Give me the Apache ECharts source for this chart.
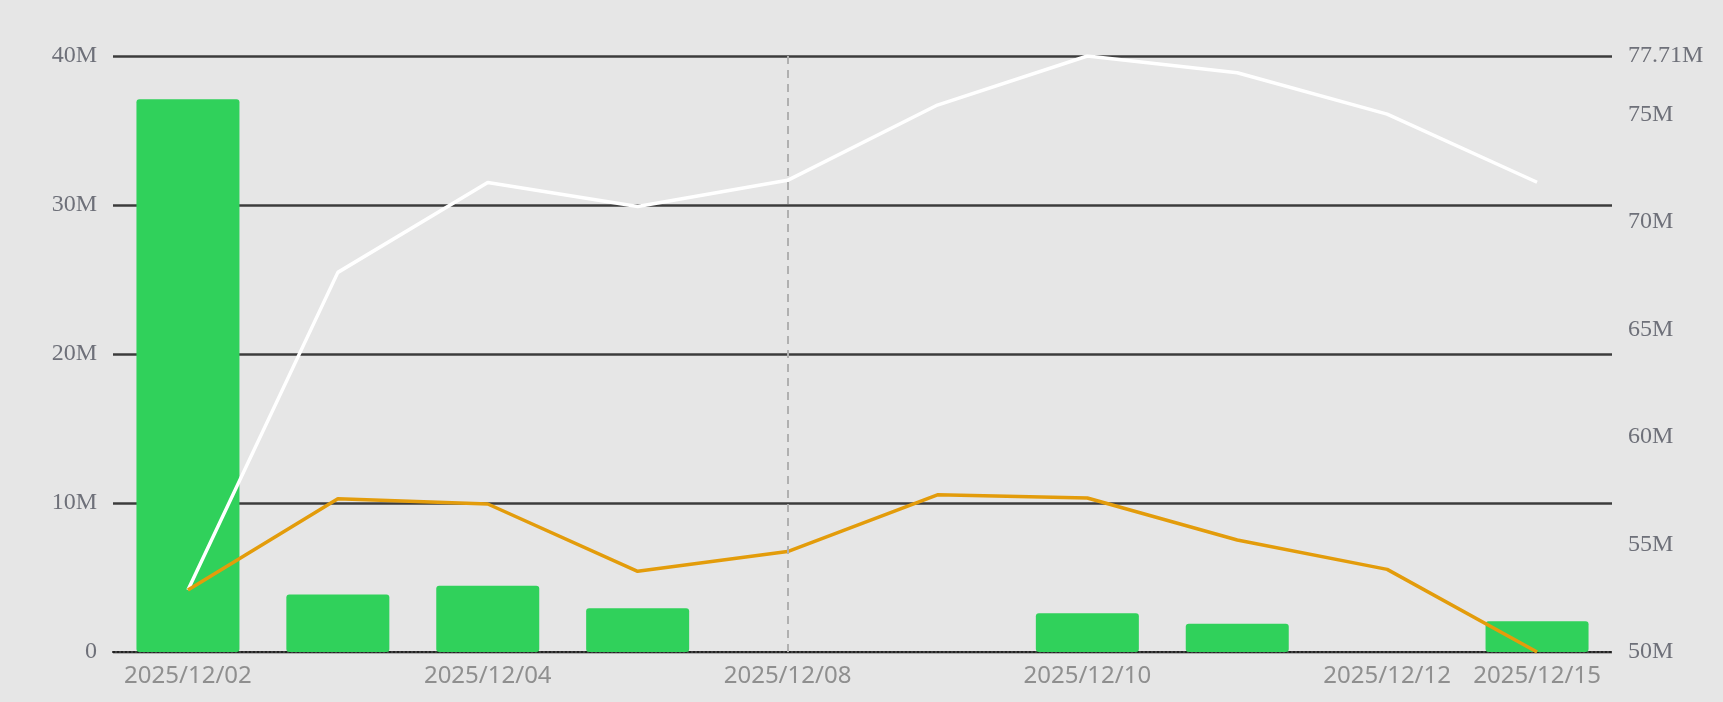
<!DOCTYPE html>
<html>
<head>
<meta charset="utf-8">
<script src="https://cdn.jsdelivr.net/npm/echarts@6/dist/echarts.min.js"></script>
<style>
html,body{margin:0;padding:0;background:#e6e6e6;}
#chart{width:1723px;height:702px;}
</style>
</head>
<body>
<div id="chart"></div>
<script>
const categories = ['2025/12/02','2025/12/03','2025/12/04','2025/12/05','2025/12/08','2025/12/09','2025/12/10','2025/12/11','2025/12/12','2025/12/15'];
// bar values (millions), left axis
const barValues = [37.1, 3.86, 4.45, 2.93, null, null, 2.6, 1.9, null, 2.06];
// white line (millions), right axis
const whiteLine = [52.88, 67.65, 71.83, 70.71, 71.93, 75.43, 77.71, 76.93, 75.01, 71.84];
// orange line (millions), right axis
const orangeLine = [52.88, 57.13, 56.88, 53.75, 54.67, 57.31, 57.16, 55.21, 53.84, 50.00];
const markedDate = '2025/12/08';
const leftMin = 0, leftMax = 40, leftInterval = 10;
const rightMin = 50, rightMax = 77.71, rightInterval = 5;

const chart = echarts.init(document.getElementById('chart'));
const serifFont = '"Liberation Serif", "DejaVu Serif", serif';
chart.setOption({
  backgroundColor: '#e6e6e6',
  animation: false,
  grid: { left: 113, right: 111, top: 56, bottom: 50, containLabel: false },
  xAxis: {
    type: 'category',
    data: categories,
    boundaryGap: true,
    axisLine: { show: true, lineStyle: { color: '#222', type: 'dotted', width: 2 } },
    axisTick: { show: false },
    axisLabel: {
      interval: 1,
      showMaxLabel: true,
      color: '#8f8f8f',
      fontFamily: '"Noto Sans", sans-serif',
      fontSize: 24,
      margin: 12
    },
    splitLine: { show: false }
  },
  yAxis: [
    {
      type: 'value',
      min: leftMin, max: leftMax, interval: leftInterval,
      position: 'left',
      axisLine: { show: false },
      axisTick: { show: false },
      axisLabel: {
        color: '#6e7079', fontFamily: serifFont, fontSize: 24, margin: 16,
        formatter: v => v === 0 ? '0' : v + 'M'
      },
      splitLine: { show: true, lineStyle: { color: ['#9a9a9a', '#3c3c3c', '#3c3c3c', '#3c3c3c', '#3c3c3c'], width: 2.5 } }
    },
    {
      type: 'value',
      min: rightMin, max: rightMax, interval: rightInterval,
      position: 'right',
      axisLine: { show: false },
      axisTick: { show: false },
      axisLabel: {
        color: '#6e7079', fontFamily: serifFont, fontSize: 24, margin: 16,
        formatter: v => Number(v.toFixed(2)) + 'M'
      },
      splitLine: { show: false }
    }
  ],
  series: [
    {
      type: 'bar',
      data: barValues,
      yAxisIndex: 0,
      barWidth: 103,
      itemStyle: { color: '#30d15b', borderRadius: 3 },
      markLine: {
        silent: true,
        symbol: 'none',
        label: { show: false },
        lineStyle: { color: '#b0b0b0', type: [8, 6], width: 2 },
        data: [{ xAxis: markedDate }]
      },
      z: 2
    },
    {
      type: 'line',
      data: whiteLine,
      yAxisIndex: 1,
      showSymbol: false,
      symbol: 'none',
      lineStyle: { color: '#ffffff', width: 3.5 },
      z: 3
    },
    {
      type: 'line',
      data: orangeLine,
      yAxisIndex: 1,
      showSymbol: false,
      symbol: 'none',
      lineStyle: { color: '#e39c0b', width: 3.5 },
      z: 4
    }
  ]
});
</script>
</body>
</html>
